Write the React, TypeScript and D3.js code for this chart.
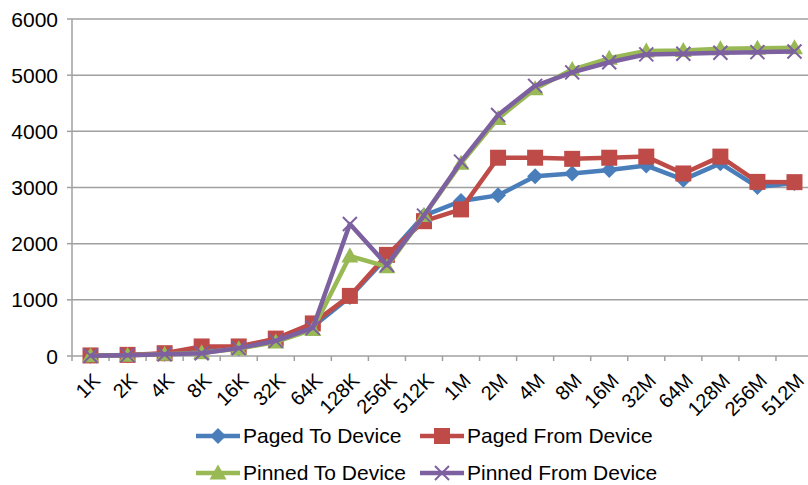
import React from 'react';
import * as d3 from 'd3';

const categories = ['1K', '2K', '4K', '8K', '16K', '32K', '64K', '128K', '256K', '512K', '1M', '2M', '4M', '8M', '16M', '32M', '64M', '128M', '256M', '512M'];
const pagedTo = [5, 20, 40, 100, 140, 290, 520, 1050, 1760, 2500, 2760, 2860, 3200, 3250, 3310, 3390, 3140, 3430, 3010, 3080];
const pagedFrom = [10, 20, 50, 170, 170, 310, 580, 1070, 1800, 2400, 2610, 3530, 3530, 3510, 3530, 3550, 3250, 3550, 3100, 3095];
const pinnedTo = [5, 15, 30, 60, 130, 250, 470, 1780, 1590, 2500, 3430, 4230, 4760, 5100, 5300, 5430, 5440, 5470, 5480, 5490];
const pinnedFrom = [5, 15, 30, 50, 140, 270, 500, 2350, 1620, 2500, 3460, 4290, 4810, 5050, 5230, 5370, 5380, 5400, 5410, 5420];
const yTicks = [0, 1000, 2000, 3000, 4000, 5000, 6000];

type Marker = 'diamond' | 'square' | 'triangle' | 'x';

const series: { name: string; values: number[]; color: string; marker: Marker }[] = [
  { name: 'Paged To Device', values: pagedTo, color: '#4a7ebb', marker: 'diamond' },
  { name: 'Paged From Device', values: pagedFrom, color: '#be4b48', marker: 'square' },
  { name: 'Pinned To Device', values: pinnedTo, color: '#98b954', marker: 'triangle' },
  { name: 'Pinned From Device', values: pinnedFrom, color: '#7d60a0', marker: 'x' },
];

const W = 808;
const H = 485;
const left = 72;
const top = 19;
const bottom = 356;
const step = 37.05;

function markerPath(m: Marker): string {
  switch (m) {
    case 'diamond':
      return 'M0,-8L8,0L0,8L-8,0Z';
    case 'square':
      return 'M-8,-8H8V8H-8Z';
    case 'triangle':
      return 'M0,-8.5L8.5,6.5L-8.5,6.5Z';
    default:
      return 'M-7,-7L7,7M7,-7L-7,7';
  }
}

function MarkerShape({ m, color, x, y }: { m: Marker; color: string; x: number; y: number }) {
  const isX = m === 'x';
  return (
    <path
      d={markerPath(m)}
      transform={`translate(${x},${y})`}
      fill={isX ? 'none' : color}
      stroke={color}
      strokeWidth={isX ? 2 : 0}
    />
  );
}

export default function App() {
  const x = d3.scaleBand<string>().domain(categories).range([left, left + step * categories.length]);
  const y = d3.scaleLinear().domain([0, 6000]).range([bottom, top]);
  const cx = (c: string) => (x(c) as number) + x.bandwidth() / 2;

  const line = d3
    .line<number>()
    .x((_, i) => cx(categories[i]))
    .y((d) => y(d));

  const font = 'Arial, "Liberation Sans", sans-serif';

  const legendRows = [
    [series[0], series[1]],
    [series[2], series[3]],
  ];
  const legendCols = [196, 420];
  const legendYs = [436, 473];

  return (
    <svg
      width={W}
      height={H}
      style={{ position: 'absolute', left: 0, top: 0, background: '#fff' }}
      fontFamily={font}
    >
      {/* gridlines */}
      {yTicks.map((t) => (
        <line key={t} x1={left} x2={W} y1={y(t)} y2={y(t)} stroke="#a0a0a0" strokeWidth={1.5} />
      ))}
      {/* y axis */}
      <line x1={left} x2={left} y1={top} y2={bottom + 5} stroke="#a0a0a0" strokeWidth={1.5} />
      {yTicks.map((t) => (
        <g key={`yt${t}`}>
          <line x1={left - 5} x2={left} y1={y(t)} y2={y(t)} stroke="#a0a0a0" strokeWidth={1.5} />
          <text x={left - 14} y={y(t)} dy="0.36em" textAnchor="end" fontSize={21} fill="#000">
            {t}
          </text>
        </g>
      ))}
      {/* x ticks */}
      {categories.map((c) => (
        <line
          key={`xt${c}`}
          x1={(x(c) as number) + x.bandwidth()}
          x2={(x(c) as number) + x.bandwidth()}
          y1={bottom}
          y2={bottom + 5}
          stroke="#a0a0a0"
          strokeWidth={1.5}
        />
      ))}
      {categories.map((c) => (
        <text
          key={`xl${c}`}
          transform={`translate(${cx(c) + 1},${bottom + 16}) rotate(-45)`}
          textAnchor="end"
          dy="0.7em"
          fontSize={20}
          fill="#000"
        >
          {c}
        </text>
      ))}
      {/* series */}
      {series.map((s) => (
        <g key={s.name}>
          <path d={line(s.values) || ''} fill="none" stroke={s.color} strokeWidth={4.5} strokeLinejoin="round" />
          {s.values.map((v, i) => (
            <MarkerShape key={i} m={s.marker} color={s.color} x={cx(categories[i])} y={y(v)} />
          ))}
        </g>
      ))}
      {/* legend */}
      {legendRows.map((row, r) =>
        row.map((s, ci) => {
          const lx = legendCols[ci];
          const ly = legendYs[r];
          return (
            <g key={s.name}>
              <line x1={lx} x2={lx + 44} y1={ly} y2={ly} stroke={s.color} strokeWidth={4.5} />
              <MarkerShape m={s.marker} color={s.color} x={lx + 22} y={ly} />
              <text x={lx + 47} y={ly} dy="0.34em" fontSize={21} fill="#000">
                {s.name}
              </text>
            </g>
          );
        })
      )}
    </svg>
  );
}
